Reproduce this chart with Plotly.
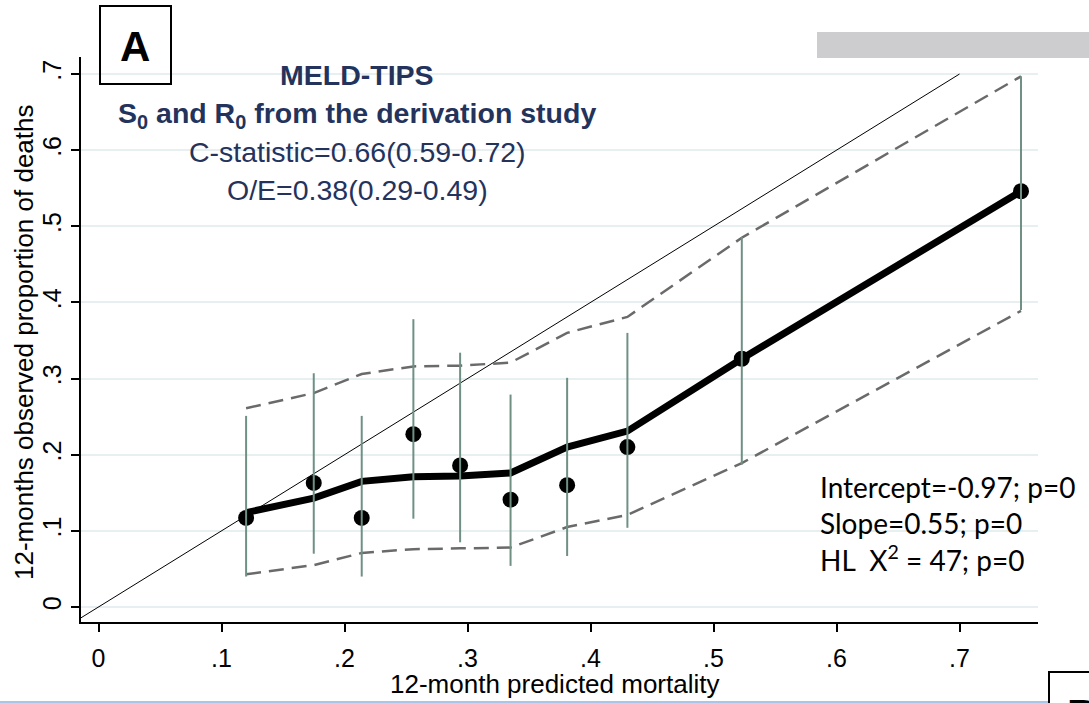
import plotly.graph_objects as go

# Calibration data: deciles of predicted 12-month mortality
pred = [0.120, 0.175, 0.214, 0.256, 0.294, 0.335, 0.381, 0.430, 0.523, 0.750]
obs = [0.117, 0.163, 0.117, 0.227, 0.186, 0.141, 0.160, 0.210, 0.326, 0.546]
obs_lo = [0.040, 0.070, 0.040, 0.116, 0.085, 0.054, 0.067, 0.104, 0.187, 0.390]
obs_hi = [0.251, 0.307, 0.251, 0.378, 0.334, 0.279, 0.301, 0.360, 0.486, 0.697]

# Smoothed calibration curve with its confidence band
fit = [0.124, 0.143, 0.165, 0.171, 0.172, 0.176, 0.210, 0.231, 0.326, 0.546]
fit_lo = [0.043, 0.055, 0.071, 0.076, 0.077, 0.078, 0.105, 0.121, 0.189, 0.389]
fit_hi = [0.261, 0.281, 0.306, 0.316, 0.317, 0.321, 0.360, 0.381, 0.485, 0.697]

# Reference line of perfect calibration
ideal = [-0.0142, 0.70]

tick_vals = [0, 0.1, 0.2, 0.3, 0.4, 0.5, 0.6, 0.7]
tick_text = ["0", ".1", ".2", ".3", ".4", ".5", ".6", ".7"]

W, H = 1089, 703
L, R, T, B = 81, 1038, 57, 622  # plot area in pixels


def px(x):
    return (x - L) / (R - L)


def py(y):
    return (B - y) / (B - T)


NAVY = "#24335C"
ARIAL = "Liberation Sans, Arial, sans-serif"

fig = go.Figure()

fig.add_trace(go.Scatter(x=ideal, y=ideal, mode="lines",
                         line=dict(color="black", width=1), hoverinfo="skip"))

for band in (fit_hi, fit_lo):
    fig.add_trace(go.Scatter(x=pred, y=band, mode="lines",
                             line=dict(color="#6A6A6A", width=2.5, dash="15px,8px")))

fig.add_trace(go.Scatter(x=pred, y=fit, mode="lines",
                         line=dict(color="black", width=7)))

fig.add_trace(go.Scatter(x=pred, y=obs, mode="markers",
                         marker=dict(color="black", size=16)))

# vertical confidence spikes for the observed proportions
ex, ey = [], []
for xv, lo, hi in zip(pred, obs_lo, obs_hi):
    ex += [xv, xv, None]
    ey += [lo, hi, None]
fig.add_trace(go.Scatter(x=ex, y=ey, mode="lines",
                         line=dict(color="#6F9083", width=2)))

axis_common = dict(
    showline=True, linecolor="black", linewidth=1.5,
    ticks="outside", ticklen=8, tickwidth=1.5, tickcolor="black",
    tickvals=tick_vals, ticktext=tick_text,
    tickfont=dict(family=ARIAL, size=25, color="black"),
    zeroline=False,
)

fig.update_xaxes(range=[(L - 98.5) / 1230, (R - 98.5) / 1230],
                 showgrid=False, ticklabelstandoff=5, **axis_common)
fig.update_yaxes(range=[(607 - B) / 761.4, (607 - T) / 761.4],
                 showgrid=True, gridcolor="#E7EFF1", gridwidth=2,
                 tickangle=-90, ticklabelstandoff=0, **axis_common)

ann = []


def text(x, y, s, size, color=NAVY, family=ARIAL, anchor="center", angle=0):
    ann.append(dict(x=px(x), y=py(y), xref="paper", yref="paper", text=s,
                    showarrow=False, xanchor=anchor, yanchor="middle",
                    textangle=angle, font=dict(family=family, size=size, color=color)))


text(357, 75, "<b>MELD-TIPS</b>", 28.5)
text(357, 115, "<b>S<sub>0</sub> and R<sub>0</sub> from the derivation study</b>", 28.5)
text(357, 152, "C-statistic=0.66(0.59-0.72)", 28.5)
text(357, 190, "O/E=0.38(0.29-0.49)", 28.5)

text(818, 487, "Intercept=-0.97; p=0", 28, color="black", family="Lato", anchor="left")
text(818, 523, "Slope=0.55; p=0", 28, color="black", family="Lato", anchor="left")
text(818, 558, "HL  X<sup>2</sup> = 47; p=0", 28, color="black", family="Lato", anchor="left")

text(135, 46, "<b>A</b>", 42, color="black")
text(1082, 714, "<b>B</b>", 42, color="black")

text(554, 684, "12-month predicted mortality", 26, color="black")
text(24, 342, "12-months observed proportion of deaths", 26, color="black", angle=-90)

shapes = [
    dict(type="rect", xref="paper", yref="paper", x0=px(100), x1=px(171),
         y0=py(6), y1=py(84), line=dict(color="black", width=2)),
    dict(type="rect", xref="paper", yref="paper", x0=px(817), x1=px(1095),
         y0=py(32), y1=py(58), line=dict(width=0), fillcolor="#CDCDCF"),
    dict(type="line", xref="paper", yref="paper", x0=px(-5), x1=px(1049),
         y0=py(702), y1=py(702), line=dict(color="#A9C5EA", width=2)),
    dict(type="rect", xref="paper", yref="paper", x0=px(1049), x1=px(1125),
         y0=py(672), y1=py(760), line=dict(color="black", width=2)),
]

fig.update_layout(
    width=W, height=H, autosize=False,
    margin=dict(l=L, r=W - R, t=T, b=H - B, pad=0),
    paper_bgcolor="white", plot_bgcolor="white",
    showlegend=False, annotations=ann, shapes=shapes,
)

fig.write_html("out.html")
